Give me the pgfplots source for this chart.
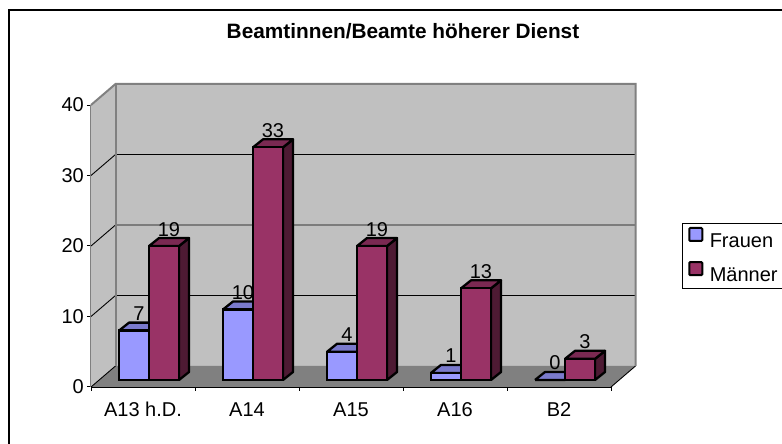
\documentclass[border=0pt]{standalone}
\usepackage{fontspec}
\setmainfont{Liberation Sans}
\usepackage{pgfplots}
\usepackage{pgfplotstable}
\pgfplotsset{compat=1.18}
\definecolor{fr}{HTML}{9999FF}
\definecolor{frtop}{HTML}{7A7ACC}
\definecolor{frside}{HTML}{4D4D80}
\definecolor{ma}{HTML}{993366}
\definecolor{matop}{HTML}{7A2952}
\definecolor{maside}{HTML}{4D1A33}
\definecolor{wall}{HTML}{C0C0C0}
\definecolor{floorc}{HTML}{808080}
\pgfplotstableread{
x f m
0.5 7 19
1.5 10 33
2.5 4 19
3.5 1 13
4.5 0 3
}\data
\newcommand{\faces}[4]{%
  \pgfmathsetmacro\xa{#1}%
  \pgfmathsetmacro\xb{#1+30/104}%
  \pgfmathsetmacro\xc{#1+40/104}%
  \pgfmathsetmacro\xd{#1+10/104}%
  \pgfmathsetmacro\yb{#2+8/7.05}%
  \pgfmathsetmacro\ya{1.135}%
  \edef\temp{\noexpand\addplot[forget plot,yshift=7pt,draw=black,line width=2.3pt,line join=round,fill=#4] coordinates {(\xb,0) (\xc,\ya) (\xc,\yb) (\xb,#2) (\xb,0)};
  \noexpand\addplot[forget plot,yshift=7pt,draw=black,line width=2.3pt,line join=round,fill=#3] coordinates {(\xa,#2) (\xb,#2) (\xc,\yb) (\xd,\yb) (\xa,#2)};}%
  \temp
}
\pgfplotsset{
  realbar/.style={ybar,bar width=30pt,yshift=7pt,draw=black,line width=2.3pt,area legend,
    nodes near coords,
    every node near coord/.append style={font=\fontsize{20}{22}\selectfont,anchor=base,inner sep=0pt,xshift=#1,yshift=10pt,text=black}},
}
\begin{document}
\begin{tikzpicture}[x=1pt,y=1pt]
\useasboundingbox (0,0) rectangle (782,444);
\draw[black,line width=1.5pt] (9,-2) -- (9,434) -- (784,434);
\begin{axis}[
  at={(91pt,57pt)},anchor=origin,
  scale only axis,width=520pt,height=282pt,
  xmin=0,xmax=5,ymin=0,ymax=40,
  clip=false,
  axis x line*=bottom,axis y line*=left,
  x axis line style={draw=black,line width=1.2pt,-},
  y axis line style={draw=floorc,line width=2pt,-},
  xtick={0,1,2,3,4,5},
  xticklabels={,,,,,},
  extra x ticks={0.5,1.5,2.5,3.5,4.5},
  extra x tick labels={A13 h.D.,A14,A15,A16,B2},
  extra x tick style={major tick length=0pt},
  ytick={0,10,20,30,40},
  x tick style={draw=black,line width=1pt},
  y tick style={draw=black,line width=1pt},
  tick align=outside,
  major tick length=4pt,
  /pgf/number format/assume math mode=true,
  tick label style={font=\fontsize{20}{22}\selectfont},
  xticklabel style={anchor=base,inner sep=0pt,yshift=-29.5pt},
  yticklabel style={inner sep=0pt,xshift=-3pt},
  title={\textbf{Beamtinnen/Beamte höherer Dienst}},
  title style={at={(0.6,1.216)},anchor=base,inner sep=0pt,yshift=0pt,font=\fontsize{20.8}{23}\selectfont},
  legend style={at={(1.138,0.5816)},anchor=north west,draw=black,line width=1pt,
    font=\fontsize{20}{22}\selectfont,inner sep=0pt,inner ysep=3.5pt,outer xsep=0pt,
    legend cell align=left,row sep=10pt,
    nodes={inner sep=2pt}},
]
% walls and floor
\fill[wall] (axis cs:0,0) -- (axis cs:0,40) -- (axis cs:0.2356,42.98) -- (axis cs:0.2356,2.98) -- cycle;
\fill[wall] (axis cs:0.2356,2.98) rectangle (axis cs:5.2356,42.98);
\fill[floorc] (axis cs:0,0) -- (axis cs:0.2356,2.98) -- (axis cs:5.2356,2.98) -- (axis cs:5,0) -- cycle;
\draw[black,line width=0.9pt] (axis cs:0,0) -- (axis cs:0.2356,2.98);
\draw[black,line width=0.9pt] (axis cs:5,0) -- (axis cs:5.2356,2.98);
\draw[black,line width=0.9pt] (axis cs:0,10) -- (axis cs:0.2356,12.98) -- (axis cs:5.2356,12.98);
\draw[black,line width=0.9pt] (axis cs:0,20) -- (axis cs:0.2356,22.98) -- (axis cs:5.2356,22.98);
\draw[black,line width=0.9pt] (axis cs:0,30) -- (axis cs:0.2356,32.98) -- (axis cs:5.2356,32.98);
\draw[floorc,line width=2pt] (axis cs:0,40) -- (axis cs:0.2356,42.98) -- (axis cs:5.2356,42.98) -- (axis cs:5.2356,2.98);
\draw[floorc,line width=2pt] (axis cs:0.2356,42.98) -- (axis cs:0.2356,2.98);
% Frauen
\faces{0.5-24/104}{7}{frtop}{frside}
\faces{1.5-24/104}{10}{frtop}{frside}
\faces{2.5-24/104}{4}{frtop}{frside}
\faces{3.5-24/104}{1}{frtop}{frside}
\faces{4.5-24/104}{0}{frtop}{frside}
\addplot[realbar=-4pt,bar shift=-9pt,fill=fr,
  legend image code/.code={\path[draw=none,fill=none] (0pt,0pt) -- (25pt,0pt);\draw[black,line width=2pt,fill=fr,rounded corners=1pt] (6.5pt,-6.5pt) rectangle (19.5pt,6.5pt);}]
  table[x=x,y=f] {\data};
\addlegendentry{Frauen}
% Männer
\faces{0.5+6/104}{19}{matop}{maside}
\faces{1.5+6/104}{33}{matop}{maside}
\faces{2.5+6/104}{19}{matop}{maside}
\faces{3.5+6/104}{13}{matop}{maside}
\faces{4.5+6/104}{3}{matop}{maside}
\addplot[realbar=26pt,bar shift=21pt,fill=ma,
  legend image code/.code={\path[draw=none,fill=none] (0pt,0pt) -- (25pt,0pt);\draw[black,line width=2pt,fill=ma,rounded corners=1pt] (6.5pt,-6.5pt) rectangle (19.5pt,6.5pt);}]
  table[x=x,y=m] {\data};
\addlegendentry{Männer\hspace*{10pt}}
\end{axis}
\end{tikzpicture}
\end{document}
